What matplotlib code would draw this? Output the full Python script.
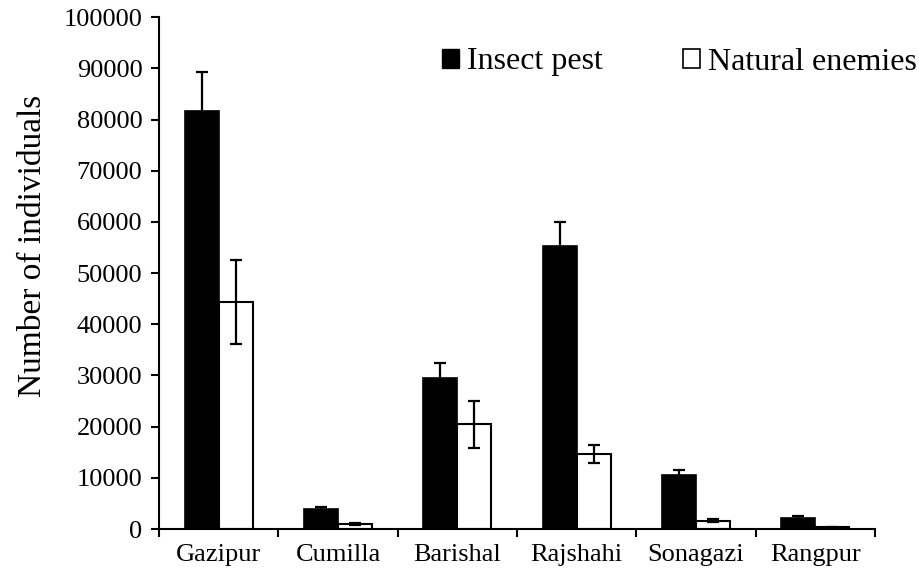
import numpy as np
import matplotlib
matplotlib.use('Agg')
import matplotlib.pyplot as plt
from matplotlib.patches import Patch

sites = ["Gazipur", "Cumilla", "Barishal", "Rajshahi", "Sonagazi", "Rangpur"]
pest = [81600, 3900, 29500, 55300, 10500, 2150]
pest_err = [7700, 400, 2900, 4700, 1000, 350]
enemies = [44300, 1000, 20500, 14650, 1600, 300]
enemies_err = [8200, 200, 4600, 1800, 300, 50]

plt.rcParams['font.family'] = ['Liberation Serif', 'DejaVu Serif']

fig = plt.figure(figsize=(9.2, 5.75), dpi=100)
ax = fig.add_axes([0.173, 0.080, 0.778, 0.890])

x = np.arange(len(sites))
w = 0.285
ekw = dict(elinewidth=1.6, capthick=1.6, ecolor='black')
ax.bar(x - w/2, pest, w, color='black', edgecolor='black', linewidth=1.2,
       yerr=pest_err, capsize=4, error_kw=ekw)
ax.bar(x + w/2, enemies, w, color='white', edgecolor='black', linewidth=1.5,
       yerr=enemies_err, capsize=4, error_kw=ekw)

ax.set_xlim(-0.5, len(sites) - 0.5)
ax.set_ylim(0, 100000)
ax.set_yticks(np.arange(0, 100001, 10000))
ax.set_yticklabels([str(v) for v in range(0, 100001, 10000)], fontsize=19)

ax.set_xticks(x)
ax.set_xticklabels(sites, fontsize=19)
ax.set_xticks(np.arange(-0.5, len(sites), 1), minor=True)
ax.tick_params(axis='x', which='major', length=0, pad=11)
ax.tick_params(axis='x', which='minor', length=6, width=1.5, direction='out')
ax.tick_params(axis='y', length=6, width=1.5, direction='out', pad=6)

for s in ['top', 'right']:
    ax.spines[s].set_visible(False)
for s in ['left', 'bottom']:
    ax.spines[s].set_linewidth(1.5)

ax.set_ylabel("Number of individuals", fontsize=24, labelpad=12)
ax.yaxis.set_label_coords(-0.155, 0.553)

handles = [Patch(facecolor='black', edgecolor='black', label='Insect pest'),
           Patch(facecolor='white', edgecolor='black', linewidth=1.2, label='Natural enemies')]
fig.legend(handles=handles, loc='center right', bbox_to_anchor=(0.997, 1 - 62/575),
           ncol=2, frameon=False, fontsize=23, handlelength=0.55, handleheight=0.55,
           handletextpad=0.25, columnspacing=2.5, borderpad=0, borderaxespad=0)

fig.savefig("out.png", dpi=100)
